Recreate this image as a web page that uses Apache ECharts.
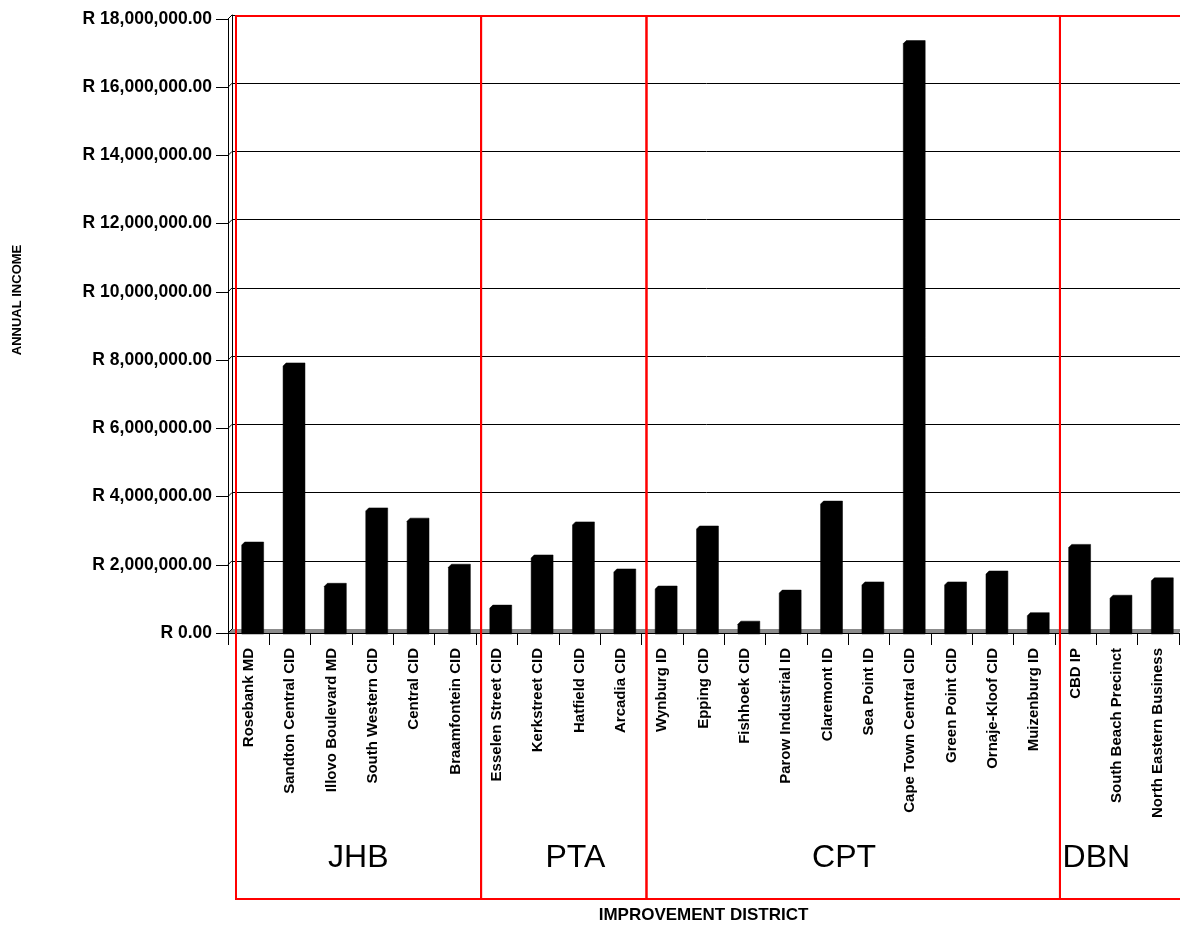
<!DOCTYPE html>
<html>
<head>
<meta charset="utf-8">
<title>Annual income per improvement district</title>
<script src="https://cdn.jsdelivr.net/npm/echarts@6/dist/echarts.min.js"></script>
<style>
  html, body { margin: 0; padding: 0; background: #ffffff; }
  #chart { width: 1180px; height: 926px; }
</style>
</head>
<body>
<div id="chart"></div>
<script>
// Improvement districts, in plotting order
const districts = [
  'Rosebank MD', 'Sandton Central CID', 'Illovo Boulevard MD', 'South Western CID',
  'Central CID', 'Braamfontein CID',
  'Esselen Street CID', 'Kerkstreet CID', 'Hatfield CID', 'Arcadia CID',
  'Wynburg ID', 'Epping CID', 'Fishhoek CID', 'Parow Industrial ID', 'Claremont ID',
  'Sea Point ID', 'Cape Town Central CID', 'Green Point CID', 'Ornaje-Kloof CID', 'Muizenburg ID',
  'CBD IP', 'South Beach Precinct', 'North Eastern Business'
];

// Annual income per district (Rand)
const annualIncome = [
  2550000, 7800000, 1340000, 3550000,
  3250000, 1900000,
  700000, 2170000, 3140000, 1760000,
  1260000, 3020000, 230000, 1140000, 3750000,
  1380000, 17250000, 1380000, 1700000, 480000,
  2480000, 990000, 1500000
];

// Value axis ticks
const yTickValues = [0, 2000000, 4000000, 6000000, 8000000, 10000000,
                     12000000, 14000000, 16000000, 18000000];

// City groupings: name, first category index, index after the last one
const regionNames = ['JHB', 'PTA', 'CPT', 'DBN'];
const regionStart = [0, 6, 10, 20];
const regionEnd = [6, 10, 20, 23];

// Axis titles
const xTitle = 'IMPROVEMENT DISTRICT';
const yTitle = 'ANNUAL INCOME';

// ---- layout / style ----
const FONT = '"Liberation Sans", Arial, Helvetica, sans-serif';
const FRONT = { left: 228, top: 19, width: 951, height: 614 };
const DEPTH = 4;                       // 3D offset of the back wall
const BACK = { left: FRONT.left + DEPTH, top: FRONT.top - DEPTH, width: FRONT.width, height: FRONT.height };
const regionLabelPos = [3.15, 8.4, 14.9, 21.0];   // label centres, in category units
const regionLabelY = 858;
const boxTop = 16, boxBottom = 899;

function randLabel(v) {
  return 'R ' + v.toLocaleString('en-US', { minimumFractionDigits: 2, maximumFractionDigits: 2 });
}

const chart = echarts.init(document.getElementById('chart'), null, { renderer: 'canvas' });

const yMin = yTickValues[0];
const yMax = yTickValues[yTickValues.length - 1];
const yStep = yTickValues[1] - yTickValues[0];

chart.setOption({
  animation: false,
  backgroundColor: '#ffffff',
  grid: [
    Object.assign({ containLabel: false, outerBoundsMode: 'none' }, FRONT),
    Object.assign({ containLabel: false, outerBoundsMode: 'none' }, BACK)
  ],
  xAxis: [
    {
      type: 'category', gridIndex: 0, data: districts, boundaryGap: true,
      axisLine: { show: true, lineStyle: { color: '#000', width: 1 } },
      axisTick: { show: true, length: 12, interval: 0, lineStyle: { color: '#000' } },
      axisLabel: {
        interval: 0, rotate: 90, margin: 15, color: '#000',
        fontFamily: FONT, fontWeight: 'bold', fontSize: 15
      },
      splitLine: { show: false },
      name: xTitle, nameLocation: 'middle', nameGap: 274,
      nameTextStyle: { color: '#000', fontFamily: FONT, fontWeight: 'bold', fontSize: 17 }
    },
    {
      type: 'category', gridIndex: 1, data: districts, boundaryGap: true,
      axisLine: { show: true, lineStyle: { color: '#000', width: 1 } },
      axisTick: { show: false }, axisLabel: { show: false }, splitLine: { show: false }
    }
  ],
  yAxis: [
    {
      type: 'value', gridIndex: 0, min: yMin, max: yMax, interval: yStep,
      axisLine: { show: true, lineStyle: { color: '#000', width: 1 } },
      axisTick: { show: true, length: 12, lineStyle: { color: '#000' } },
      axisLabel: {
        margin: 16, color: '#000', fontFamily: FONT, fontWeight: 'bold', fontSize: 17.5,
        formatter: randLabel
      },
      splitLine: { show: false }
    },
    {
      type: 'value', gridIndex: 1, min: yMin, max: yMax, interval: yStep,
      axisLine: { show: true, lineStyle: { color: '#000', width: 1 } },
      axisTick: { show: false }, axisLabel: { show: false },
      splitLine: { show: true, lineStyle: { color: '#000', width: 1 } }
    }
  ],
  series: [
    {
      type: 'custom',
      name: 'Annual income',
      xAxisIndex: 1, yAxisIndex: 1,
      z: 5,
      data: annualIncome.map((v, i) => [i, v]),
      encode: { x: 0, y: 1 },
      renderItem: function (params, api) {
        const i = api.value(0);
        const v = api.value(1);
        const top = api.coord([i, v]);
        const base = api.coord([i, 0]);
        const w = api.size([1, 0])[0] * 0.53;
        const x0 = top[0] - w / 2;
        const x1 = top[0] + w / 2;
        const bevel = 3;
        const bottom = base[1] + DEPTH + 1;
        return {
          type: 'polygon',
          shape: {
            points: [
              [x0, top[1] + bevel], [x0 + bevel, top[1]], [x1, top[1]],
              [x1, bottom], [x0, bottom]
            ]
          },
          style: { fill: '#000000', stroke: '#000000', lineWidth: 0.5 }
        };
      }
    }
  ]
});

// Decorations that depend on the axis scales: floor, wall connectors, city boxes, titles
function buildDecor() {
  const els = [];
  const band = FRONT.width / districts.length;

  // floor strip between the back wall and the front axis
  const fl = chart.convertToPixel({ xAxisIndex: 0, yAxisIndex: 0 }, [0, 0]);
  const bl = chart.convertToPixel({ xAxisIndex: 1, yAxisIndex: 1 }, [0, 0]);
  const frontY = fl[1], backY = bl[1];
  els.push({
    type: 'polygon', z: 1, silent: true,
    shape: { points: [
      [FRONT.left, frontY], [BACK.left, backY],
      [BACK.left + BACK.width, backY], [FRONT.left + FRONT.width, frontY]
    ] },
    style: { fill: '#8c8c8c', stroke: null }
  });

  // connectors from the front value ticks to the back wall gridlines
  yTickValues.forEach(v => {
    const yf = chart.convertToPixel({ yAxisIndex: 0 }, v);
    const yb = chart.convertToPixel({ yAxisIndex: 1 }, v);
    els.push({
      type: 'line', z: 2, silent: true,
      shape: { x1: FRONT.left, y1: yf, x2: BACK.left, y2: yb },
      style: { stroke: '#000', lineWidth: 1 }
    });
  });

  // city boxes with their names
  regionNames.forEach((name, k) => {
    const xs = BACK.left + regionStart[k] * band + (k === 0 ? 4 : 1);
    const xe = BACK.left + regionEnd[k] * band + 1;
    els.push({
      type: 'rect', z: 20, silent: true,
      shape: { x: xs, y: boxTop, width: xe - xs, height: boxBottom - boxTop },
      style: { fill: null, stroke: '#ff0000', lineWidth: 2 }
    });
    els.push({
      type: 'text', z: 20, silent: true,
      x: FRONT.left + regionLabelPos[k] * band, y: regionLabelY,
      style: {
        text: name, fill: '#000', font: '32px ' + FONT,
        textAlign: 'center', textVerticalAlign: 'middle'
      }
    });
  });

  // vertical value-axis title
  els.push({
    type: 'text', z: 20, silent: true,
    x: 17, y: 300, rotation: Math.PI / 2,
    style: {
      text: yTitle, fill: '#000', font: 'bold 13px ' + FONT,
      textAlign: 'center', textVerticalAlign: 'middle'
    }
  });
  return els;
}

chart.setOption({ graphic: { elements: buildDecor() } });
</script>
</body>
</html>
